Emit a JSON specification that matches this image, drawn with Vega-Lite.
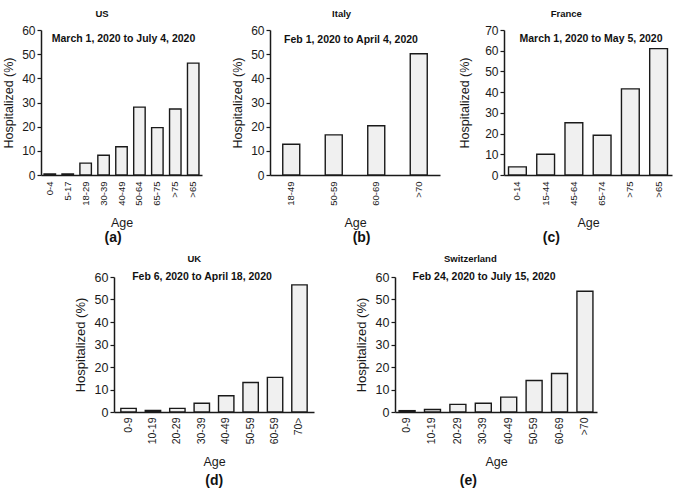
{
  "$schema": "https://vega.github.io/schema/vega-lite/v6.json",
  "padding": {"left": 2, "top": 8, "right": 2, "bottom": 0},
  "background": "white",
  "config": {
    "font": "Liberation Sans",
    "view": {"stroke": null},
    "axis": {"grid": false, "domainColor": "#1a1a1a", "domainWidth": 1.5, "tickColor": "#1a1a1a", "tickWidth": 1.2, "tickSize": 4, "labelColor": "#1a1a1a", "titleColor": "#1a1a1a", "titleFontWeight": "normal", "titleFontSize": 12.5, "labelFontSize": 12, "labelFont": "Liberation Sans", "titleFont": "Liberation Sans"},
    "axisX": {"labelAngle": -90, "ticks": false, "tickSize": 0, "labelFontSize": 9.5, "labelPadding": 6, "titlePadding": 11},
    "axisY": {"titlePadding": 6.5, "labelPadding": 2},
    "bar": {"fill": "#f0f0f0", "stroke": "#1a1a1a", "strokeWidth": 1.4},
    "text": {"font": "Liberation Sans", "fontWeight": "bold", "fontSize": 10.5, "color": "#111111"},
    "title": {"fontSize": 9.5, "fontWeight": "bold", "font": "Liberation Sans", "color": "#111111", "offset": 6, "anchor": "middle", "frame": "bounds"},
    "concat": {"spacing": 0}
  },
  "datasets": {
    "US": [
      {"age": "0-4", "value": 0.4},
      {"age": "5-17", "value": 0.4},
      {"age": "18-29", "value": 4.9},
      {"age": "30-39", "value": 8.2},
      {"age": "40-49", "value": 11.7},
      {"age": "50-64", "value": 28.1},
      {"age": "65-75", "value": 19.6},
      {"age": ">75", "value": 27.3},
      {"age": ">65", "value": 46.3}
    ],
    "Italy": [
      {"age": "18-49", "value": 12.7},
      {"age": "50-59", "value": 16.6},
      {"age": "60-69", "value": 20.4},
      {"age": ">70", "value": 50.2}
    ],
    "France": [
      {"age": "0-14", "value": 3.9},
      {"age": "15-44", "value": 10.0},
      {"age": "45-64", "value": 25.2},
      {"age": "65-74", "value": 19.2},
      {"age": ">75", "value": 41.6},
      {"age": ">65", "value": 61.0}
    ],
    "UK": [
      {"age": "0-9", "value": 1.6},
      {"age": "10-19", "value": 0.7},
      {"age": "20-29", "value": 1.6},
      {"age": "30-39", "value": 3.9},
      {"age": "40-49", "value": 7.2},
      {"age": "50-59", "value": 13.1},
      {"age": "60-59", "value": 15.4},
      {"age": "70>", "value": 56.5}
    ],
    "Switzerland": [
      {"age": "0-9", "value": 0.6},
      {"age": "10-19", "value": 1.1},
      {"age": "20-29", "value": 3.4},
      {"age": "30-39", "value": 3.9},
      {"age": "40-49", "value": 6.6},
      {"age": "50-59", "value": 14.0},
      {"age": "60-69", "value": 17.1},
      {"age": ">70", "value": 53.7}
    ]
  },
  "vconcat": [
    {
      "hconcat": [
        {
          "title": {"text": "(a)", "orient": "bottom", "fontSize": 14, "offset": 2, "dx": 11},
          "vconcat": [
            {
              "title": {"text": "US"},
              "width": 161,
              "height": 145,
              "layer": [
                {
                  "data": {"name": "US"},
                  "mark": "bar",
                  "encoding": {
                    "x": {"field": "age", "type": "nominal", "sort": null, "title": "Age", "scale": {"paddingInner": 0.36, "paddingOuter": 0.17}},
                    "y": {"field": "value", "type": "quantitative", "title": "Hospitalized (%)", "scale": {"domain": [0, 60], "nice": false}, "axis": {"values": [0, 10, 20, 30, 40, 50, 60]}}
                  }
                },
                {
                  "data": {"values": [{"label": "March 1, 2020 to July 4, 2020"}]},
                  "mark": {"type": "text", "dx": 2},
                  "encoding": {
                    "text": {"field": "label"},
                    "y": {"datum": 56.3, "type": "quantitative", "title": "Hospitalized (%)", "scale": {"domain": [0, 60], "nice": false}, "axis": {"values": [0, 10, 20, 30, 40, 50, 60]}}
                  }
                }
              ]
            }
          ]
        },
        {
          "hconcat": [
            {
              "title": {"text": "(b)", "orient": "bottom", "fontSize": 14, "offset": 2, "dx": 26},
              "vconcat": [
                {
                  "title": {"text": "Italy", "dx": 6},
                  "width": 170,
                  "height": 145,
                  "layer": [
                    {
                      "data": {"name": "Italy"},
                      "mark": "bar",
                      "encoding": {
                        "x": {"field": "age", "type": "nominal", "sort": null, "title": "Age", "scale": {"paddingInner": 0.6, "paddingOuter": 0.3}},
                        "y": {"field": "value", "type": "quantitative", "title": "Hospitalized (%)", "scale": {"domain": [0, 60], "nice": false}, "axis": {"values": [0, 10, 20, 30, 40, 50, 60]}}
                      }
                    },
                    {
                      "data": {"values": [{"label": "Feb 1, 2020 to April 4, 2020"}]},
                      "mark": {"type": "text", "dx": -4},
                      "encoding": {
                        "text": {"field": "label"},
                        "y": {"datum": 55.9, "type": "quantitative", "title": "Hospitalized (%)", "scale": {"domain": [0, 60], "nice": false}, "axis": {"values": [0, 10, 20, 30, 40, 50, 60]}}
                      }
                    }
                  ]
                }
              ]
            },
            {
              "title": {"text": "(c)", "orient": "bottom", "fontSize": 14, "offset": 2, "dx": -14},
              "vconcat": [
                {
                  "title": {"text": "France", "dx": 1},
                  "width": 168,
                  "height": 145,
                  "layer": [
                    {
                      "data": {"name": "France"},
                      "mark": "bar",
                      "encoding": {
                        "x": {"field": "age", "type": "nominal", "sort": null, "title": "Age", "scale": {"paddingInner": 0.37, "paddingOuter": 0.16}},
                        "y": {"field": "value", "type": "quantitative", "title": "Hospitalized (%)", "scale": {"domain": [0, 70], "nice": false}, "axis": {"values": [0, 10, 20, 30, 40, 50, 60, 70], "titlePadding": 13}}
                      }
                    },
                    {
                      "data": {"values": [{"label": "March 1, 2020 to May 5, 2020"}]},
                      "mark": {"type": "text", "dx": 3},
                      "encoding": {
                        "text": {"field": "label"},
                        "y": {"datum": 65.5, "type": "quantitative", "title": "Hospitalized (%)", "scale": {"domain": [0, 70], "nice": false}, "axis": {"values": [0, 10, 20, 30, 40, 50, 60, 70], "titlePadding": 13}}
                      }
                    }
                  ]
                }
              ]
            }
          ],
          "spacing": 18
        }
      ],
      "spacing": 29
    },
    {
      "title": {"text": " ", "orient": "right", "fontSize": 2, "offset": 0},
      "hconcat": [
        {
          "title": {"text": "(d)", "orient": "bottom", "fontSize": 14, "offset": 6, "dx": 20},
          "vconcat": [
            {
              "title": {"text": "UK", "offset": 8},
              "width": 200,
              "height": 135,
              "layer": [
                {
                  "data": {"name": "UK"},
                  "mark": "bar",
                  "encoding": {
                    "x": {"field": "age", "type": "nominal", "sort": null, "title": "Age", "scale": {"paddingInner": 0.37, "paddingOuter": 0.28}, "axis": {"labelFontSize": 10.5, "labelPadding": 5, "titlePadding": 12}},
                    "y": {"field": "value", "type": "quantitative", "title": "Hospitalized (%)", "scale": {"domain": [0, 60], "nice": false}, "axis": {"values": [0, 10, 20, 30, 40, 50, 60], "labelFontSize": 12.5, "titleFontSize": 13}}
                  }
                },
                {
                  "data": {"values": [{"label": "Feb 6, 2020 to April 18, 2020"}]},
                  "mark": {"type": "text", "dx": -12},
                  "encoding": {
                    "text": {"field": "label"},
                    "y": {"datum": 60.2, "type": "quantitative", "title": "Hospitalized (%)", "scale": {"domain": [0, 60], "nice": false}, "axis": {"values": [0, 10, 20, 30, 40, 50, 60], "labelFontSize": 12.5, "titleFontSize": 13}}
                  }
                }
              ]
            }
          ]
        },
        {
          "title": {"text": "(e)", "orient": "bottom", "fontSize": 14, "offset": 6, "dx": -8},
          "vconcat": [
            {
              "title": {"text": "Switzerland", "dx": -6, "offset": 8},
              "width": 202,
              "height": 135,
              "layer": [
                {
                  "data": {"name": "Switzerland"},
                  "mark": "bar",
                  "encoding": {
                    "x": {"field": "age", "type": "nominal", "sort": null, "title": "Age", "scale": {"paddingInner": 0.37, "paddingOuter": 0.16}, "axis": {"labelFontSize": 10.5, "labelPadding": 5, "titlePadding": 12}},
                    "y": {"field": "value", "type": "quantitative", "title": "Hospitalized (%)", "scale": {"domain": [0, 60], "nice": false}, "axis": {"values": [0, 10, 20, 30, 40, 50, 60], "labelFontSize": 12.5, "titleFontSize": 13}}
                  }
                },
                {
                  "data": {"values": [{"label": "Feb 24, 2020 to July 15, 2020"}]},
                  "mark": {"type": "text", "dx": -12},
                  "encoding": {
                    "text": {"field": "label"},
                    "y": {"datum": 59.9, "type": "quantitative", "title": "Hospitalized (%)", "scale": {"domain": [0, 60], "nice": false}, "axis": {"values": [0, 10, 20, 30, 40, 50, 60], "labelFontSize": 12.5, "titleFontSize": 13}}
                  }
                }
              ]
            }
          ]
        }
      ],
      "spacing": 41
    }
  ],
  "spacing": 8,
  "center": true
}
